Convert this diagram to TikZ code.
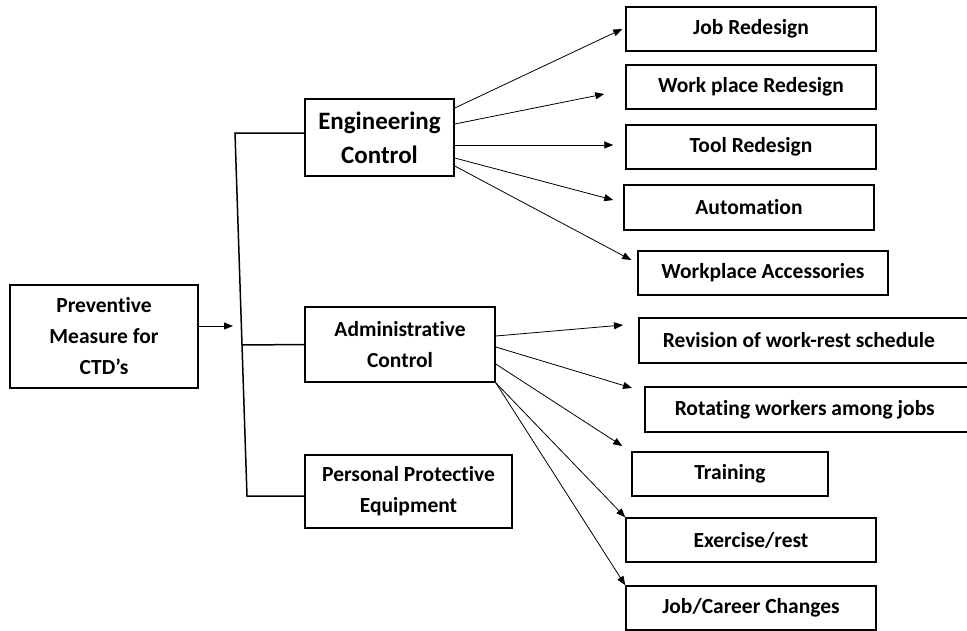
\documentclass[tikz,border=0pt]{standalone}
\usepackage{fontspec}
\setmainfont{Carlito}[Ligatures=NoCommon]
\usetikzlibrary{arrows.meta}

\tikzset{
  box/.style={draw, line width=1.5pt, inner sep=0pt, align=center,
    font=\fontsize{21.5}{31}\selectfont\bfseries},
  item/.style={box, minimum width=250, minimum height=44},
}

\begin{document}
\begin{tikzpicture}[x=1pt, y=-1pt, line width=0.8pt, >={Triangle[length=9pt,width=7pt]}]
		\useasboundingbox (0,0) rectangle (967,630);
		\clip (0,0) rectangle (967,630);
		% left side
		\node[box, minimum width=188, minimum height=103] (1) at (104,336.5) {Preventive\\Measure for\\CTD’s};
		\node[box, minimum width=149, minimum height=77, font=\fontsize{25}{34}\selectfont\bfseries] (2) at (379.5,137.5) {Engineering\\Control};
		\node[box, minimum width=190, minimum height=75] (3) at (400,344.5) {Administrative\\Control};
		\node[box, minimum width=207, minimum height=73] (4) at (408.5,491.5) {Personal Protective\\Equipment};
		% engineering items
		\node[item] (5) at (751,29) {Job Redesign};
		\node[item] (6) at (751,87) {Work place Redesign};
		\node[item] (7) at (751,147) {Tool Redesign};
		\node[item, minimum height=45] (8) at (749,207.5) {Automation};
		\node[item] (9) at (763,273) {Workplace Accessories};
		% administrative items
		\node[item, minimum height=45, anchor=west, inner xsep=24, text width=312, align=flush left] (10) at (638,340.5) {Revision of work-rest schedule};
		\node[item, minimum height=45, anchor=west, inner xsep=30, text width=300, align=flush left] (11) at (644,409.5) {Rotating workers among jobs};
		\node[item, minimum width=196] (12) at (730,474) {Training};
		\node[item] (13) at (751,540) {Exercise/rest};
		\node[item] (14) at (751,608) {Job/Career Changes};
		% bracket
		\coordinate (top) at (235,133);
		\coordinate (mid) at (242,345);
		\coordinate (bot) at (247,496);
		\coordinate (in) at (233,326);
		\draw [line width=1.5pt] ([yshift=4.5]2.west) -- (top) -- (bot) -- ([yshift=-4.5]4.west);
		\draw [line width=1.5pt] (3.west) -- (mid);
		\draw [->] ([yshift=10.5]1.east) -- (in);
		% arrows
		\draw [->] ([yshift=29.5]2.east) -- ([xshift=-3]5.west);
		\draw [->] ([yshift=13.5]2.east) -- ([xshift=-21,yshift=-7]6.west);
		\draw [->] ([yshift=-7.5]2.east) -- ([xshift=-12,yshift=2]7.west);
		\draw [->] ([yshift=-20.5]2.east) -- ([xshift=-10,yshift=7.5]8.west);
		\draw [->] ([yshift=-28.5]2.east) -- ([xshift=-6,yshift=13]9.west);
		\draw [->] ([yshift=8.5]3.east) -- ([xshift=-15,yshift=15.5]10.west);
		\draw [->] ([yshift=-2.5]3.east) -- ([xshift=-12,yshift=21.5]11.west);
		\draw [->] ([yshift=-19.5]3.east) -- ([xshift=-9,yshift=28]12.west);
		\draw [->] (3.south east) -- (13.north west);
		\draw [->] (3.south east) -- (14.north west);
		\end{tikzpicture}
\end{document}
